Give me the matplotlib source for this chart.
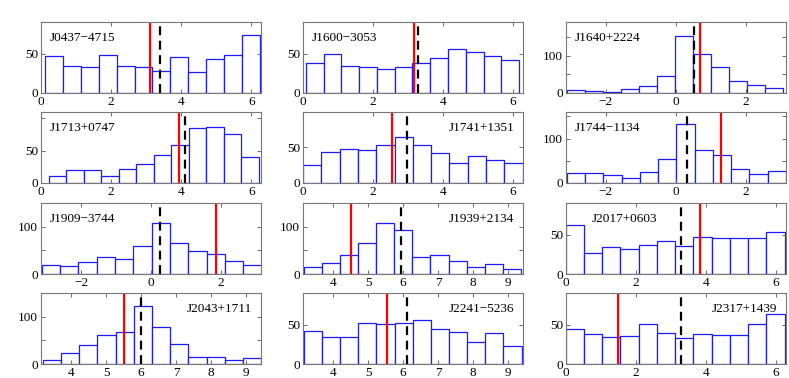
import numpy as np
import matplotlib
matplotlib.use("Agg")
import matplotlib.pyplot as plt
from matplotlib.ticker import MultipleLocator

plt.rcParams['font.family'] = ['Liberation Serif', 'DejaVu Serif']
plt.rcParams['font.size'] = 9.5

names = ["J0437\u22124715", "J1600\u22123053", "J1640+2224",
         "J1713+0747", "J1741+1351", "J1744\u22121134",
         "J1909\u22123744", "J1939+2134", "J2017+0603",
         "J2043+1711", "J2241\u22125236", "J2317+1439"]

# histogram counts (12 bins each)
counts = [
    [46.6, 34.7, 33.5, 47.9, 34.7, 33.5, 28.4, 45.8, 27.1, 43.6, 47.9, 73.3],
    [38.1, 49.2, 34.7, 33.5, 30.9, 33.5, 37.7, 44.9, 55.1, 51.7, 47.0, 41.9],
    [8.8, 6.2, 2.7, 11.5, 17.7, 45, 152, 104, 70, 32, 22, 14],
    [10.8, 19.6, 19.6, 10.8, 21.1, 28.9, 42.8, 58.8, 85, 86, 75.3, 40.2],
    [25.2, 43.9, 47.7, 45.8, 53.3, 65, 53.3, 42, 28, 37.4, 32.2, 28],
    [22.4, 22.4, 17.9, 11.9, 24.6, 53.7, 132, 74.6, 62, 31.3, 20.1, 26.9],
    [19.9, 17, 25.5, 35.5, 31.9, 58.9, 108.5, 65.2, 48.2, 43.3, 27, 19.1],
    [15.5, 23.9, 40.1, 65.5, 108.5, 92.2, 36.6, 40.8, 26.8, 14.8, 21.8, 11.3],
    [61.5, 26.5, 34.2, 31.2, 36.8, 41.5, 35.5, 47, 45.3, 45.3, 45.3, 53.4],
    [9.1, 23, 39.9, 60.8, 67, 122, 77.6, 42.7, 15.4, 14.7, 9.1, 12.6],
    [42, 34.7, 34.7, 52.1, 50.8, 52.1, 55.9, 44.9, 40.7, 28, 39.8, 22.9],
    [44.9, 38.6, 34.7, 35.2, 50.4, 39.4, 33.5, 38.6, 36.9, 36.9, 50.4, 63.6],
]

# sample range (first and last bin edge)
bin_lo = [0.12, 0.08, -3.11, 0.22, 0.0, -3.11, -3.12, 3.17, 0.0, 3.19, 3.17, 0.0]
bin_hi = [6.24, 6.17, 3.07, 6.21, 6.27, 3.14, 3.16, 9.36, 6.25, 9.43, 9.38, 6.25]

# axis range type: 0 -> [0, 2pi], 1 -> [-pi, pi], 2 -> [pi, 3pi]
xrange_type = [0, 0, 1, 0, 0, 1, 1, 2, 0, 2, 2, 0]
ymax = [90, 90, 190, 110, 100, 160, 150, 150, 90, 150, 90, 90]
ylabels = [[0, 50], [0, 50], [0, 100], [0, 50], [0, 50], [0, 100],
           [0, 100], [0, 100], [0, 50], [0, 100], [0, 50], [0, 50]]

red_val = [3.12, 3.16, 0.70, 3.93, 2.55, 1.28, 1.84, 4.52, 3.84, 5.52, 5.54, 1.50]
black_val = [3.40, 3.28, 0.51, 4.11, 2.96, 0.33, 0.26, 5.93, 3.28, 6.00, 6.12, 3.29]

label_right = [False, False, False, False, True, False, False, True, False, True, True, True]

fig = plt.figure(figsize=(7.89, 3.78), dpi=100)
lefts = [0.052, 0.384, 0.717]
bottoms = [0.754, 0.516, 0.275, 0.037]
w, h = 0.279, 0.188

xlims = [(0, 2*np.pi), (-np.pi, np.pi), (np.pi, 3*np.pi)]
xsteps = [2, 2, 1]

for i in range(12):
    r, c = divmod(i, 3)
    ax = fig.add_axes([lefts[c], bottoms[r], w, h])
    edges = np.linspace(bin_lo[i], bin_hi[i], len(counts[i]) + 1)
    ax.bar(edges[:-1], counts[i], width=np.diff(edges), align='edge',
           facecolor='white', edgecolor=(0.1, 0.1, 1.0), linewidth=0.9)
    ax.axvline(red_val[i], color='red', lw=1.6)
    ax.axvline(black_val[i], color='black', lw=1.6, ls=(0, (4, 2.5)))
    t = xrange_type[i]
    ax.set_xlim(*xlims[t])
    ax.xaxis.set_major_locator(MultipleLocator(xsteps[t]))
    ax.set_ylim(0, ymax[i])
    yt = np.arange(0, ymax[i] + 1, 50)
    ax.set_yticks(yt)
    ax.set_yticklabels([str(int(v)) if v in ylabels[i] else '' for v in yt])
    ax.tick_params(direction='in', top=True, right=True, length=3, width=0.6,
                   colors='#555555', labelcolor='black', pad=2)
    for s in ax.spines.values():
        s.set_color('#777777')
        s.set_linewidth(0.8)
    if label_right[i]:
        ax.text(0.96, 0.86, names[i], transform=ax.transAxes, ha='right', va='top')
    else:
        xo = 0.12 if i == 8 else 0.04
        ax.text(xo, 0.86, names[i], transform=ax.transAxes, ha='left', va='top')

fig.savefig("out.png", dpi=100)
